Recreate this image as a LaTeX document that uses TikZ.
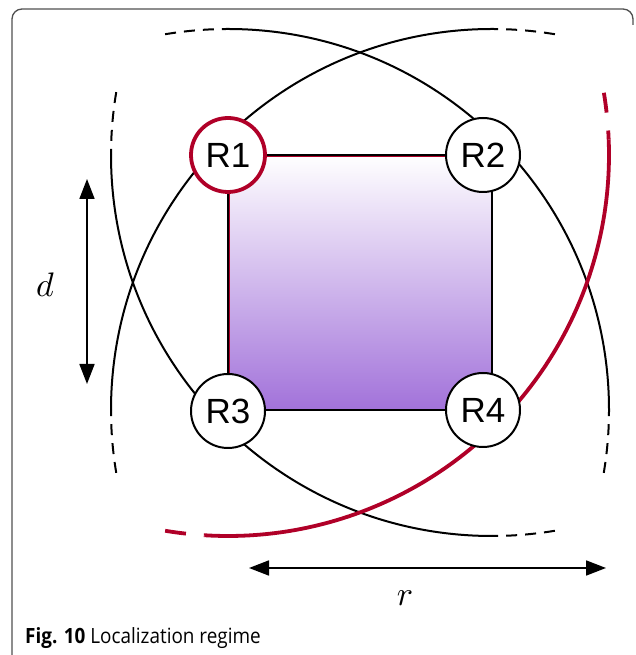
\documentclass[tikz,border=0pt]{standalone}
\usepackage{fontspec}
\usepackage{graphicx}
\usepackage{tikz}
\usepackage{xcolor}
\usetikzlibrary{arrows.meta}
\newfontfamily\nodefont{Liberation Sans}
\newfontfamily\capfont[FakeStretch=0.9]{Open Sans}
\definecolor{regred}{RGB}{176,0,40}
\definecolor{regpurple}{RGB}{162,114,218}
\definecolor{framegray}{RGB}{80,80,80}
\newcommand{\biglbl}[1]{\scalebox{3.4}{$#1$}}

\begin{document}
\begin{tikzpicture}[x=1pt,y=1pt,
    rnode/.style={circle,draw,fill=white,line width=2pt,minimum size=74pt,inner sep=0pt,
        font=\nodefont\fontsize{35}{35}\selectfont},
    rangearc/.style={line width=2pt},
    rangedash/.style={line width=2pt,dash pattern=on 11pt off 8pt},
    dimarrow/.style={line width=1.8pt,{Triangle[length=20pt,width=15pt]}-{Triangle[length=20pt,width=15pt]}}]
    \useasboundingbox (0,0) rectangle (635,655);

    % frame
    \draw[framegray,line width=1.3pt,rounded corners=10pt] (12,-5) -- (12,646) -- (633,646) -- (633,630);

    % corners of the square
    \coordinate (c1) at (228,500);
    \coordinate (c2) at (492,500);
    \coordinate (c3) at (228,245);
    \coordinate (c4) at (492,245);

    % range arcs (black)
    \foreach \c/\a in {c3/0,c4/90,c2/180} {
        \draw[rangearc] (\c) ++(\a:381) arc[start angle=\a,end angle=\a+90,radius=381];
        \draw[rangedash] (\c) ++(\a-9.5:381) arc[start angle=\a-9.5,end angle=\a,radius=381];
        \draw[rangedash] (\c) ++(\a+99.5:381) arc[start angle=\a+99.5,end angle=\a+90,radius=381];
    }
    % range arc of R1
    \draw[regred,line width=3.8pt] (c1) ++(266.5:381) arc[start angle=266.5,end angle=362.3,radius=381];
    \draw[regred,line width=3.8pt,dash pattern=on 21pt off 18pt] (c1) ++(260.5:381) arc[start angle=260.5,end angle=266.5,radius=381];
    \draw[regred,line width=3.8pt,dash pattern=on 20pt off 18pt] (c1) ++(369.4:381) arc[start angle=369.4,end angle=362.3,radius=381];

    % square
    \shade[top color=white,bottom color=regpurple] (c3) rectangle (c2);
    \draw[line width=2.2pt] (c3) rectangle (c2);
    \draw[regred,line width=1.4pt] ([xshift=1.6pt]c3) -- ([xshift=1.6pt,yshift=-1.6pt]c1) -- ([xshift=-1pt,yshift=-1.6pt]c2);

    % receivers
    \node[rnode,draw=regred,line width=3.8pt] (r1) at (228,500) {R1};
    \node[rnode] (r2) at (483,500) {R2};
    \node[rnode] (r3) at (228,244) {R3};
    \node[rnode] (r4) at (483,245) {R4};

    % dimensions
    \coordinate (dtop) at (87,476);
    \coordinate (dbot) at (87,271);
    \draw[dimarrow] (dtop) -- (dbot);
    \node (dlbl) at (45,370) {\biglbl{d}};
    \coordinate (rleft) at (249,87);
    \coordinate (rright) at (606,87);
    \draw[dimarrow] (rleft) -- (rright);
    \node (rlbl) at (405,57) {\biglbl{r}};

    % caption
    \node[anchor=base west,inner sep=0pt,font=\capfont\fontsize{21}{24}\selectfont] (cap) at (25,12)
        {\textbf{Fig. 10} Localization regime};
\end{tikzpicture}
\end{document}
